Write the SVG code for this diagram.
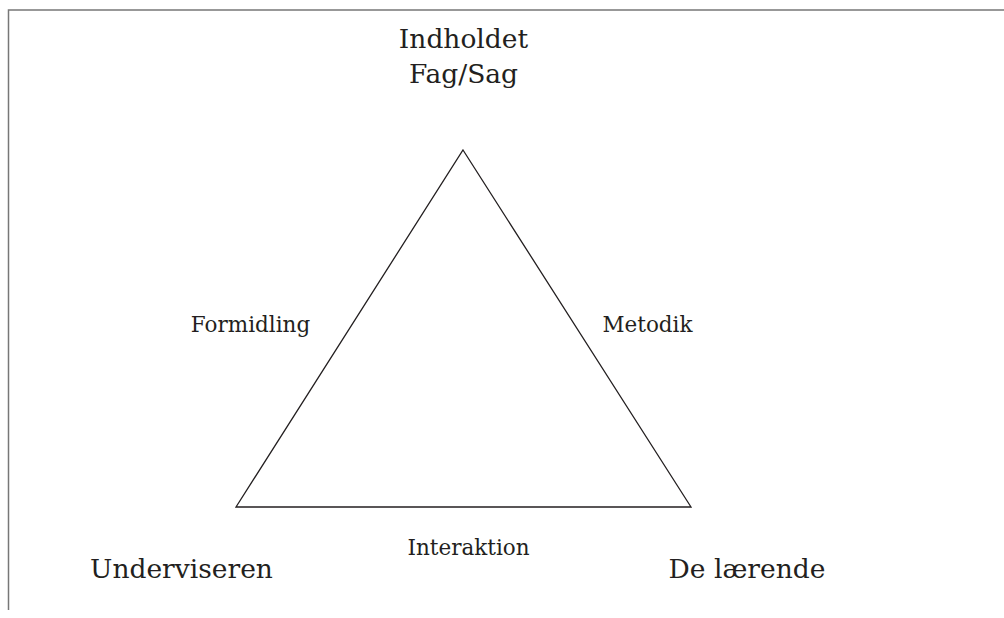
<svg xmlns="http://www.w3.org/2000/svg" width="1004" height="618" viewBox="0 0 1004 618">
<style>
.t{font-family:"DejaVu Serif","Liberation Serif",serif;fill:#231f20}
.big{font-size:26.5px}
.sm{font-size:21.5px}
.frame{fill:none;stroke:#777;stroke-width:1.5}
.edge{fill:none;stroke:#231f20;stroke-width:1.3}
</style>
<rect width="1004" height="618" fill="#fff"/>
<path class="frame" d="M1004 10H8.5V610"/>
<g id="connectors">
<path class="edge" d="M463 150L691 507H236Z"/>
</g>
<g id="indholdet"><text class="t big" x="463.5" y="48" text-anchor="middle">Indholdet</text><text class="t big" x="463.5" y="83" text-anchor="middle">Fag/Sag</text></g>
<g id="underviseren"><text class="t big" x="181.5" y="578" text-anchor="middle">Underviseren</text></g>
<g id="delaerende"><text class="t big" x="747" y="578" text-anchor="middle">De lærende</text></g>
<g id="formidling"><text class="t sm" x="250.5" y="332" text-anchor="middle">Formidling</text></g>
<g id="metodik"><text class="t sm" x="647.5" y="332" text-anchor="middle">Metodik</text></g>
<g id="interaktion"><text class="t sm" x="468.5" y="555" text-anchor="middle">Interaktion</text></g>
</svg>
